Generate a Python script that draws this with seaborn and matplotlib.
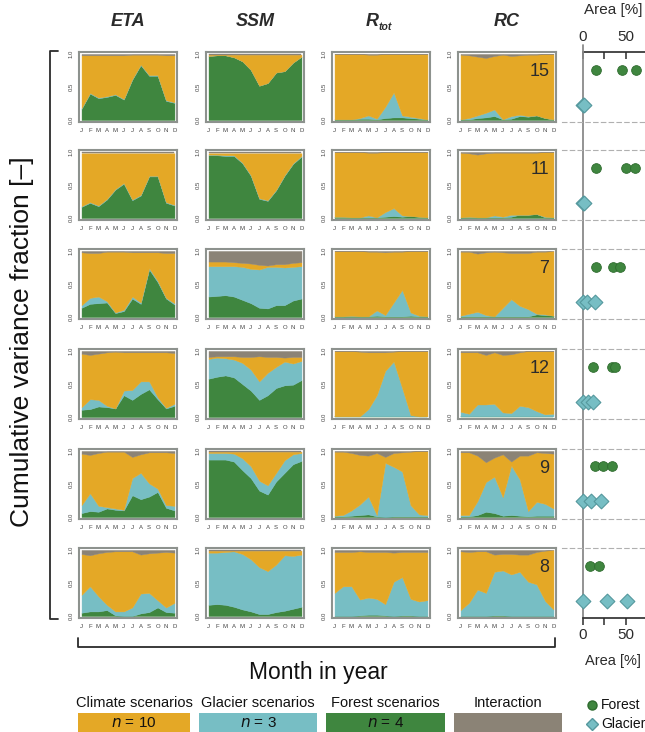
import matplotlib

matplotlib.use("Agg")
import matplotlib.pyplot as plt
import numpy as np
import pandas as pd
import seaborn as sns
from matplotlib.lines import Line2D
from matplotlib.patches import Rectangle


MONTHS = list("JFMAMJJASOND")
ROW_IDS = [15, 11, 7, 12, 9, 8]

# upper boundary of each layer (forest -> glacier -> climate -> interaction up to 1)
ETA_FOREST = [
    [0.17, 0.40, 0.33, 0.35, 0.38, 0.31, 0.61, 0.83, 0.67, 0.67, 0.29, 0.26],
    [0.17, 0.23, 0.18, 0.28, 0.43, 0.52, 0.27, 0.34, 0.63, 0.63, 0.23, 0.19],
    [0.14, 0.20, 0.21, 0.22, 0.06, 0.09, 0.28, 0.20, 0.72, 0.53, 0.28, 0.19],
    [0.11, 0.12, 0.16, 0.15, 0.13, 0.33, 0.26, 0.35, 0.42, 0.27, 0.13, 0.17],
    [0.06, 0.09, 0.08, 0.13, 0.11, 0.10, 0.33, 0.27, 0.31, 0.38, 0.14, 0.10],
    [0.05, 0.07, 0.07, 0.09, 0.01, 0.00, 0.00, 0.04, 0.06, 0.13, 0.06, 0.05],
]
ETA_GLACIER = [
    [0.18, 0.41, 0.34, 0.36, 0.39, 0.32, 0.62, 0.84, 0.68, 0.68, 0.30, 0.27],
    [0.18, 0.24, 0.19, 0.29, 0.44, 0.53, 0.28, 0.35, 0.64, 0.64, 0.24, 0.20],
    [0.18, 0.29, 0.31, 0.24, 0.07, 0.11, 0.31, 0.22, 0.74, 0.55, 0.29, 0.21],
    [0.15, 0.27, 0.26, 0.17, 0.13, 0.40, 0.41, 0.54, 0.54, 0.30, 0.14, 0.20],
    [0.18, 0.36, 0.17, 0.15, 0.13, 0.11, 0.59, 0.67, 0.51, 0.43, 0.18, 0.17],
    [0.32, 0.45, 0.30, 0.17, 0.07, 0.07, 0.13, 0.34, 0.35, 0.24, 0.13, 0.20],
]
ETA_CLIMATE = [
    [0.98, 0.98, 0.98, 0.98, 0.98, 0.98, 0.99, 0.99, 0.99, 0.99, 0.98, 0.98],
    [0.98, 0.98, 0.98, 0.98, 0.98, 0.98, 0.98, 0.98, 0.98, 0.98, 0.98, 0.98],
    [0.98, 0.97, 0.97, 0.99, 0.99, 0.99, 0.98, 0.98, 0.98, 0.98, 0.97, 0.97],
    [0.96, 0.94, 0.96, 0.98, 0.99, 0.98, 0.98, 0.98, 0.98, 0.98, 0.98, 0.97],
    [0.96, 0.94, 0.97, 0.99, 0.99, 0.99, 0.91, 0.95, 0.98, 0.98, 0.98, 0.97],
    [0.94, 0.92, 0.95, 0.97, 0.98, 0.98, 0.98, 0.93, 0.95, 0.96, 0.97, 0.96],
]

SSM_FOREST = [
    [0.97, 0.98, 0.98, 0.95, 0.89, 0.76, 0.52, 0.56, 0.72, 0.74, 0.87, 0.96],
    [0.95, 0.95, 0.94, 0.94, 0.83, 0.64, 0.29, 0.26, 0.42, 0.64, 0.82, 0.93],
    [0.31, 0.32, 0.33, 0.31, 0.26, 0.21, 0.14, 0.13, 0.18, 0.18, 0.25, 0.28],
    [0.58, 0.61, 0.63, 0.60, 0.50, 0.40, 0.26, 0.33, 0.44, 0.48, 0.49, 0.56],
    [0.87, 0.87, 0.87, 0.84, 0.71, 0.59, 0.40, 0.34, 0.54, 0.67, 0.80, 0.85],
    [0.17, 0.18, 0.17, 0.14, 0.10, 0.07, 0.03, 0.03, 0.06, 0.08, 0.11, 0.14],
]
SSM_GLACIER = [
    [0.97, 0.98, 0.98, 0.95, 0.89, 0.76, 0.52, 0.56, 0.72, 0.74, 0.87, 0.96],
    [0.96, 0.96, 0.95, 0.95, 0.84, 0.65, 0.30, 0.27, 0.43, 0.65, 0.83, 0.94],
    [0.77, 0.77, 0.77, 0.77, 0.76, 0.73, 0.72, 0.76, 0.76, 0.75, 0.76, 0.77],
    [0.88, 0.90, 0.89, 0.87, 0.82, 0.72, 0.54, 0.67, 0.76, 0.84, 0.81, 0.85],
    [0.97, 0.97, 0.97, 0.96, 0.89, 0.77, 0.55, 0.48, 0.67, 0.86, 0.95, 0.97],
    [0.96, 0.96, 0.97, 0.98, 0.94, 0.86, 0.74, 0.68, 0.78, 0.92, 0.91, 0.93],
]
SSM_CLIMATE = [
    [0.99, 0.99, 0.99, 0.99, 0.99, 0.99, 0.99, 0.99, 0.99, 0.99, 0.99, 0.99],
    [0.98, 0.98, 0.98, 0.98, 0.98, 0.98, 0.98, 0.98, 0.98, 0.98, 0.98, 0.98],
    [0.84, 0.84, 0.84, 0.83, 0.82, 0.81, 0.79, 0.78, 0.80, 0.80, 0.82, 0.83],
    [0.91, 0.92, 0.92, 0.92, 0.91, 0.91, 0.92, 0.91, 0.91, 0.90, 0.91, 0.91],
    [0.99, 0.99, 0.99, 0.99, 0.99, 0.99, 0.99, 0.99, 0.99, 0.99, 0.99, 0.99],
    [0.99, 0.99, 0.99, 0.99, 0.99, 0.99, 0.99, 0.99, 0.99, 0.99, 0.99, 0.99],
]

RTOT_FOREST = [
    [0.01, 0.01, 0.01, 0.02, 0.02, 0.01, 0.03, 0.04, 0.04, 0.03, 0.02, 0.01],
    [0.02, 0.02, 0.01, 0.01, 0.01, 0.01, 0.02, 0.03, 0.02, 0.03, 0.02, 0.01],
    [0.01, 0.01, 0.01, 0.01, 0.01, 0.02, 0.01, 0.01, 0.01, 0.02, 0.01, 0.01],
    [0.01, 0.01, 0.01, 0.01, 0.01, 0.01, 0.01, 0.01, 0.01, 0.01, 0.01, 0.01],
    [0.01, 0.01, 0.02, 0.03, 0.04, 0.01, 0.00, 0.01, 0.01, 0.01, 0.01, 0.01],
    [0.00, 0.00, 0.00, 0.01, 0.02, 0.02, 0.01, 0.00, 0.01, 0.01, 0.00, 0.00],
]
RTOT_GLACIER = [
    [0.01, 0.01, 0.01, 0.03, 0.07, 0.02, 0.20, 0.42, 0.07, 0.05, 0.03, 0.01],
    [0.02, 0.02, 0.01, 0.01, 0.04, 0.01, 0.09, 0.15, 0.04, 0.03, 0.02, 0.01],
    [0.01, 0.01, 0.02, 0.01, 0.01, 0.10, 0.03, 0.22, 0.41, 0.07, 0.02, 0.01],
    [0.01, 0.01, 0.01, 0.01, 0.12, 0.33, 0.70, 0.84, 0.44, 0.03, 0.01, 0.01],
    [0.02, 0.03, 0.10, 0.19, 0.31, 0.03, 0.82, 0.76, 0.69, 0.18, 0.04, 0.03],
    [0.35, 0.45, 0.45, 0.25, 0.28, 0.26, 0.18, 0.52, 0.59, 0.26, 0.22, 0.24],
]
RTOT_CLIMATE = [
    [1.00, 1.00, 1.00, 1.00, 0.99, 0.99, 1.00, 1.00, 1.00, 1.00, 1.00, 1.00],
    [1.00, 1.00, 1.00, 1.00, 0.99, 0.99, 1.00, 1.00, 1.00, 1.00, 1.00, 1.00],
    [1.00, 1.00, 1.00, 1.00, 0.99, 0.99, 0.98, 0.99, 0.99, 1.00, 1.00, 1.00],
    [1.00, 1.00, 1.00, 0.99, 0.98, 0.98, 0.98, 0.99, 1.00, 1.00, 1.00, 1.00],
    [0.99, 0.99, 0.97, 0.94, 0.93, 0.97, 0.91, 0.97, 0.98, 0.99, 1.00, 1.00],
    [0.97, 0.97, 0.97, 0.98, 0.97, 0.97, 0.97, 0.96, 0.97, 0.97, 0.97, 0.97],
]

RC_FOREST = [
    [0.01, 0.01, 0.03, 0.04, 0.06, 0.01, 0.02, 0.06, 0.05, 0.07, 0.03, 0.01],
    [0.01, 0.01, 0.01, 0.01, 0.01, 0.01, 0.02, 0.05, 0.05, 0.06, 0.01, 0.01],
    [0.01, 0.01, 0.01, 0.01, 0.01, 0.01, 0.01, 0.01, 0.01, 0.04, 0.03, 0.02],
    [0.01, 0.01, 0.01, 0.01, 0.01, 0.01, 0.01, 0.01, 0.01, 0.01, 0.01, 0.01],
    [0.01, 0.01, 0.03, 0.08, 0.06, 0.02, 0.03, 0.02, 0.01, 0.02, 0.02, 0.02],
    [0.00, 0.00, 0.00, 0.00, 0.01, 0.01, 0.00, 0.00, 0.00, 0.00, 0.00, 0.00],
]
RC_GLACIER = [
    [0.01, 0.03, 0.07, 0.11, 0.16, 0.01, 0.06, 0.08, 0.06, 0.07, 0.03, 0.01],
    [0.01, 0.02, 0.01, 0.01, 0.04, 0.02, 0.05, 0.05, 0.05, 0.06, 0.02, 0.01],
    [0.02, 0.05, 0.08, 0.03, 0.01, 0.14, 0.27, 0.17, 0.12, 0.05, 0.04, 0.02],
    [0.08, 0.05, 0.19, 0.19, 0.20, 0.07, 0.06, 0.17, 0.15, 0.09, 0.04, 0.05],
    [0.03, 0.03, 0.24, 0.53, 0.61, 0.30, 0.78, 0.57, 0.09, 0.23, 0.20, 0.13],
    [0.09, 0.20, 0.40, 0.35, 0.67, 0.69, 0.63, 0.67, 0.52, 0.48, 0.23, 0.10],
]
RC_CLIMATE = [
    [0.99, 0.98, 0.96, 0.94, 0.97, 0.99, 0.97, 0.98, 0.99, 0.99, 1.00, 1.00],
    [0.99, 0.98, 0.96, 0.98, 0.99, 0.99, 0.99, 0.99, 0.99, 0.99, 1.00, 1.00],
    [0.99, 0.99, 0.96, 0.98, 0.99, 0.98, 0.97, 0.97, 0.97, 0.99, 0.99, 1.00],
    [0.98, 0.98, 0.98, 0.94, 0.98, 0.94, 0.95, 0.98, 1.00, 1.00, 1.00, 1.00],
    [0.98, 0.98, 0.93, 0.83, 0.90, 0.95, 0.84, 0.93, 0.93, 0.98, 0.97, 0.96],
    [0.98, 0.97, 0.98, 0.98, 0.93, 0.94, 0.94, 0.93, 0.93, 0.97, 0.99, 1.00],
]

# catchment area [%] covered by the forest / glacier scenarios
FOREST_AREA = [[15, 45, 62], [15, 50, 60], [15, 35, 43], [12, 34, 37], [14, 23, 34], [8, 19]]
GLACIER_AREA = [[0, 1], [0, 2], [0, 5, 14], [0, 6, 12], [0, 10, 21], [0, 28, 51]]

VARIABLES = [
    ("ETA", ETA_FOREST, ETA_GLACIER, ETA_CLIMATE),
    ("SSM", SSM_FOREST, SSM_GLACIER, SSM_CLIMATE),
    ("Rtot", RTOT_FOREST, RTOT_GLACIER, RTOT_CLIMATE),
    ("RC", RC_FOREST, RC_GLACIER, RC_CLIMATE),
]

LEGEND_LABELS = ["Climate scenarios", "Glacier scenarios", "Forest scenarios", "Interaction"]
LEGEND_COUNTS = ["10", "3", "4", None]

CLIMATE_COLOR = "#E4A826"
GLACIER_COLOR = "#77BEC4"
FOREST_COLOR = "#3F863F"
INTER_COLOR = "#8B8376"
FRAME_COLOR = "#8D928E"
TEXT_COLOR = "#2B2B2B"

FIG_W, FIG_H = 645, 732
COL_LEFT = [79, 206, 332, 458]
ROW_TOP = [52, 150, 249, 349, 449, 548]
PANEL_W, PANEL_H = 98, 70


def px_axes(fig, left, top, width, height):
    return fig.add_axes([left / FIG_W, 1 - (top + height) / FIG_H, width / FIG_W, height / FIG_H])


def fx(px):
    return px / FIG_W


def fy(px):
    return 1 - px / FIG_H


def draw_panel(ax, forest, glacier, climate):
    x = np.arange(len(MONTHS))
    forest = np.asarray(forest)
    glacier = np.asarray(glacier)
    climate = np.asarray(climate)
    layers = [
        (np.zeros_like(forest), forest, FOREST_COLOR),
        (forest, glacier, GLACIER_COLOR),
        (glacier, climate, CLIMATE_COLOR),
        (climate, np.ones_like(forest), INTER_COLOR),
    ]
    for low, high, color in layers:
        ax.fill_between(x, low, high, color=color, edgecolor=color, linewidth=0.3)

    ax.set_xlim(-0.3, 11.3)
    ax.set_ylim(-0.03, 1.03)
    ax.set_xticks(x, MONTHS)
    ax.set_yticks([0, 0.5, 1.0], ["0.0", "0.5", "1.0"])
    ax.tick_params(axis="both", length=2.5, width=0.6, color="#777777",
                   labelsize=4.3, labelcolor="#444444", pad=1.5)
    ax.tick_params(axis="y", labelrotation=90)
    for label in ax.get_yticklabels():
        label.set_verticalalignment("center")
    for spine in ax.spines.values():
        spine.set_visible(True)
        spine.set_color(FRAME_COLOR)
        spine.set_linewidth(1.5)


def main() -> None:
    sns.set_theme(style="white")
    plt.rcParams["font.family"] = ["Liberation Sans", "DejaVu Sans"]

    fig = plt.figure(figsize=(FIG_W / 100, FIG_H / 100), dpi=100)

    for col, (name, forest, glacier, climate) in enumerate(VARIABLES):
        for row, row_id in enumerate(ROW_IDS):
            ax = px_axes(fig, COL_LEFT[col], ROW_TOP[row], PANEL_W, PANEL_H)
            draw_panel(ax, forest[row], glacier[row], climate[row])
            if name == "RC":
                ax.text(0.93, 0.72, str(row_id), transform=ax.transAxes, ha="right",
                        va="center", fontsize=13, color=TEXT_COLOR)

        cx = fx(COL_LEFT[col] + PANEL_W / 2)
        if name == "Rtot":
            fig.text(cx - 0.004, fy(22), "R", ha="right", va="center", fontsize=13,
                     fontweight="bold", fontstyle="italic", color=TEXT_COLOR)
            fig.text(cx - 0.004, fy(27), "tot", ha="left", va="center", fontsize=7.5,
                     fontweight="bold", fontstyle="italic", color=TEXT_COLOR)
        else:
            fig.text(cx, fy(22), name, ha="center", va="center", fontsize=13,
                     fontweight="bold", fontstyle="italic", color=TEXT_COLOR)

    # area column
    area_ax = px_axes(fig, 562, ROW_TOP[0], 83, ROW_TOP[-1] + PANEL_H - ROW_TOP[0])
    area_ax.set_xlim(-24, 72)
    area_ax.set_ylim(0, 1)
    area_ax.patch.set_alpha(0)
    for side in ["left", "right", "top"]:
        area_ax.spines[side].set_visible(False)
    area_ax.spines["bottom"].set_bounds(0, 72)
    area_ax.spines["bottom"].set_color(TEXT_COLOR)
    area_ax.spines["bottom"].set_linewidth(1.2)
    area_ax.set_yticks([])
    area_ax.set_xticks([0, 25, 50], ["0", "", "50"])
    area_ax.tick_params(axis="x", direction="out", length=5, width=1.1, color=TEXT_COLOR,
                        labelsize=11, labelcolor=TEXT_COLOR, pad=2, bottom=True)
    area_ax.axvline(0, ymin=0, ymax=1.012, color="#8A8A8A", lw=1.3, clip_on=False)

    top_axis = area_ax.secondary_xaxis("top")
    top_axis.set_xticks([0, 25, 50], ["0", "", "50"])
    top_axis.tick_params(direction="in", length=5, width=1.1, color=TEXT_COLOR,
                         labelsize=11, labelcolor=TEXT_COLOR, pad=6)
    top_axis.spines["top"].set_bounds(0, 72)
    top_axis.spines["top"].set_color(TEXT_COLOR)
    top_axis.spines["top"].set_linewidth(1.2)

    fig.text(fx(613), fy(10), "Area [%]", ha="center", va="center", fontsize=11, color=TEXT_COLOR)
    fig.text(fx(613), fy(661), "Area [%]", ha="center", va="center", fontsize=10.5, color=TEXT_COLOR)

    for row in range(len(ROW_IDS)):
        pax = px_axes(fig, 562, ROW_TOP[row], 83, PANEL_H)
        pax.patch.set_alpha(0)
        points = pd.DataFrame(
            {
                "area": FOREST_AREA[row] + GLACIER_AREA[row],
                "kind": ["Forest"] * len(FOREST_AREA[row]) + ["Glacier"] * len(GLACIER_AREA[row]),
            }
        )
        sns.stripplot(data=points[points["kind"] == "Forest"], x="area", y="kind",
                      order=["Forest", "Glacier"], orient="h", jitter=False, marker="o",
                      color=FOREST_COLOR, size=7, edgecolor="#2E6B2E", linewidth=0.6, ax=pax)
        sns.stripplot(data=points[points["kind"] == "Glacier"], x="area", y="kind",
                      order=["Forest", "Glacier"], orient="h", jitter=False, marker="D",
                      color=GLACIER_COLOR, size=7.5, edgecolor="#55989D", linewidth=0.8, ax=pax)
        pax.set_xlim(-24, 72)
        pax.set_ylim(1.5, -0.5)
        pax.set_xticks([])
        pax.set_yticks([])
        pax.set_xlabel("")
        pax.set_ylabel("")
        for side in ["left", "right"]:
            pax.spines[side].set_visible(False)
        for side in ["top", "bottom"]:
            pax.spines[side].set_visible(True)
            pax.spines[side].set_color("#B0B0B0")
            pax.spines[side].set_linewidth(0.8)
            pax.spines[side].set_linestyle((0, (4, 3)))
        if row == 0:
            pax.spines["top"].set_visible(False)
        if row == len(ROW_IDS) - 1:
            pax.spines["bottom"].set_visible(False)

    # brackets and shared axis labels
    fig.add_artist(Line2D([fx(58), fx(50), fx(50), fx(58)], [fy(51), fy(51), fy(619), fy(619)],
                          color=TEXT_COLOR, lw=1.3))
    fig.add_artist(Line2D([fx(78), fx(78), fx(555), fx(555)], [fy(638), fy(647), fy(647), fy(638)],
                          color=TEXT_COLOR, lw=1.3))
    fig.text(fx(22), fy(342), "Cumulative variance fraction [–]", rotation=90, ha="center",
             va="center", fontsize=19, color="#111111")
    fig.text(fx(318), fy(672), "Month in year", ha="center", va="center", fontsize=16.5,
             color="#111111")

    # legend boxes
    box_x = [(78, 190), (199, 317), (326, 445), (454, 562)]
    colors = [CLIMATE_COLOR, GLACIER_COLOR, FOREST_COLOR, INTER_COLOR]
    for (x0, x1), color, label, count in zip(box_x, colors, LEGEND_LABELS, LEGEND_COUNTS):
        fig.add_artist(Rectangle((fx(x0), fy(732)), fx(x1) - fx(x0), fy(713) - fy(732),
                                 transform=fig.transFigure, facecolor=color, edgecolor="none"))
        fig.text(fx((x0 + x1) / 2), fy(703), label, ha="center", va="center",
                 fontsize=10.5, color="#111111")
        if count is not None:
            fig.text(fx((x0 + x1) / 2), fy(723), f"$n$ = {count}", ha="center", va="center",
                     fontsize=11, color="#111111")

    fig.add_artist(Line2D([fx(592)], [fy(705)], marker="o", markersize=6.5, color=FOREST_COLOR,
                          markeredgecolor="#2E6B2E", linestyle="none"))
    fig.add_artist(Line2D([fx(592)], [fy(724)], marker="D", markersize=6.5, color=GLACIER_COLOR,
                          markeredgecolor="#55989D", linestyle="none"))
    fig.text(fx(601), fy(705), "Forest", ha="left", va="center", fontsize=10, color="#111111")
    fig.text(fx(601), fy(724), "Glacier", ha="left", va="center", fontsize=10, color="#111111")

    fig.savefig("out.png", dpi=100)
    plt.close(fig)


if __name__ == "__main__":
    main()
